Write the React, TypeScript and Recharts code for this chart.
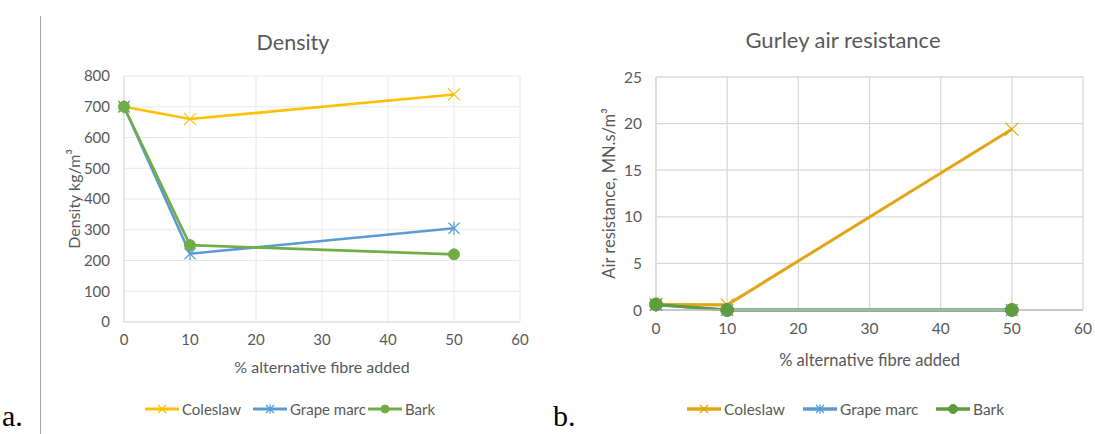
import React from "react";
import {
  LineChart,
  Line,
  XAxis,
  YAxis,
  CartesianGrid,
  Legend,
} from "recharts";

// % alternative fibre added
const fibre = [0, 10, 50];
const xTicks = [0, 10, 20, 30, 40, 50, 60];

// Density, kg/m3
const densityColeslaw = [700, 660, 740];
const densityGrapeMarc = [700, 222, 305];
const densityBark = [700, 250, 220];
const densityTicks = [0, 100, 200, 300, 400, 500, 600, 700, 800];

// Gurley air resistance, MN.s/m3
const airColeslaw = [0.6, 0.55, 19.4];
const airGrapeMarc = [0.55, 0, 0];
const airBark = [0.6, 0, 0];
const airTicks = [0, 5, 10, 15, 20, 25];

const seriesNames = ["Coleslaw", "Grape marc", "Bark"];

const densityData = fibre.map((f, i) => ({
  fibre: f,
  coleslaw: densityColeslaw[i],
  grape: densityGrapeMarc[i],
  bark: densityBark[i],
}));

const airData = fibre.map((f, i) => ({
  fibre: f,
  coleslaw: airColeslaw[i],
  grape: airGrapeMarc[i],
  bark: airBark[i],
}));

const FONT = "Lato, 'Open Sans', sans-serif";
const TEXT = "#595959";
const BLUE = "#5B9BD5";

type Marker = "cross" | "star" | "circle";

function MarkerShape({
  kind,
  cx,
  cy,
  color,
  size,
}: {
  kind: Marker;
  cx: number;
  cy: number;
  color: string;
  size: number;
}) {
  if (kind === "circle") {
    return <circle cx={cx} cy={cy} r={size} fill={color} stroke={color} />;
  }
  const s = size;
  return (
    <g stroke={color} strokeWidth={1.2} fill="none">
      <line x1={cx - s} y1={cy - s} x2={cx + s} y2={cy + s} />
      <line x1={cx - s} y1={cy + s} x2={cx + s} y2={cy - s} />
      {kind === "star" && <line x1={cx} y1={cy - s * 1.2} x2={cx} y2={cy + s * 1.2} />}
    </g>
  );
}

function makeDot(kind: Marker, color: string, size: number) {
  return (p: any) => (
    <MarkerShape
      key={`${kind}-${p.index}`}
      kind={kind}
      cx={p.cx}
      cy={p.cy}
      color={color}
      size={size}
    />
  );
}

function LegendRow({
  colors,
  kinds,
  offsets,
  fontSize,
  lineWidth,
  markerSizes,
}: {
  colors: string[];
  kinds: Marker[];
  offsets: number[];
  fontSize: number;
  lineWidth: number;
  markerSizes: number[];
}) {
  return (
    <div style={{ position: "relative", height: 20, fontFamily: FONT, fontSize, color: TEXT }}>
      {seriesNames.map((name, i) => (
        <div
          key={name}
          style={{
            position: "absolute",
            left: offsets[i],
            top: 0,
            display: "flex",
            alignItems: "center",
            whiteSpace: "nowrap",
            height: 20,
          }}
        >
          <svg width={34} height={16} style={{ display: "block" }}>
            <line x1={0} y1={8} x2={34} y2={8} stroke={colors[i]} strokeWidth={lineWidth} />
            <MarkerShape kind={kinds[i]} cx={17} cy={8} color={colors[i]} size={markerSizes[i]} />
          </svg>
          <span style={{ marginLeft: 3 }}>{name}</span>
        </div>
      ))}
    </div>
  );
}

function YTitle({ viewBox, text, dx, fontSize }: any) {
  const cx = viewBox.x + dx;
  const cy = viewBox.y + viewBox.height / 2;
  return (
    <text
      x={cx}
      y={cy}
      transform={`rotate(-90, ${cx}, ${cy})`}
      textAnchor="middle"
      dominantBaseline="central"
      fill={TEXT}
      fontFamily={FONT}
      fontSize={fontSize}
    >
      {text}
    </text>
  );
}

function XTitle({ viewBox, text, dy, fontSize }: any) {
  return (
    <text
      x={viewBox.x + viewBox.width / 2}
      y={viewBox.y + dy}
      textAnchor="middle"
      dominantBaseline="central"
      fill={TEXT}
      fontFamily={FONT}
      fontSize={fontSize}
    >
      {text}
    </text>
  );
}

function DensityChart() {
  const YELLOW = "#FFC000";
  const GREEN = "#70AD47";
  const tick = { fill: TEXT, fontSize: 15, fontFamily: FONT };
  return (
    <div style={{ position: "absolute", left: 0, top: 0 }}>
      <div
        style={{
          position: "absolute",
          left: 193,
          width: 200,
          top: 29,
          textAlign: "center",
          fontFamily: FONT,
          fontSize: 21.5,
          color: TEXT,
          whiteSpace: "nowrap",
        }}
      >
        Density
      </div>
      <LineChart
        width={560}
        height={434}
        data={densityData}
        margin={{ top: 76, right: 40, bottom: 72, left: 60 }}
      >
        <CartesianGrid stroke="#E8E8E8" strokeWidth={1} />
        <XAxis
          dataKey="fibre"
          type="number"
          domain={[0, 60]}
          ticks={xTicks}
          interval={0}
          tick={tick}
          tickLine={false}
          tickSize={0}
          tickMargin={12}
          axisLine={{ stroke: "#D9D9D9" }}
          height={40}
          label={<XTitle text="% alternative fibre added" dy={44} fontSize={16} />}
        />
        <YAxis
          type="number"
          domain={[0, 800]}
          ticks={densityTicks}
          interval={0}
          tick={tick}
          tickLine={false}
          tickSize={0}
          tickMargin={14}
          axisLine={{ stroke: "#D9D9D9" }}
          width={64}
          label={<YTitle text="Density kg/m³" dx={13} fontSize={16} />}
        />
        <Legend
          layout="horizontal"
          verticalAlign="middle"
          align="center"
          wrapperStyle={{ left: 145, top: 399, width: 340, height: 20 }}
          content={() => (
            <LegendRow
              colors={[YELLOW, BLUE, GREEN]}
              kinds={["cross", "star", "circle"]}
              offsets={[0, 108, 223]}
              fontSize={15}
              lineWidth={3}
              markerSizes={[4, 4, 4]}
            />
          )}
        />
        <Line
          dataKey="coleslaw"
          stroke={YELLOW}
          strokeWidth={2.6}
          isAnimationActive={false}
          dot={makeDot("cross", YELLOW, 6)}
        />
        <Line
          dataKey="grape"
          stroke={BLUE}
          strokeWidth={2.6}
          isAnimationActive={false}
          dot={makeDot("star", BLUE, 5.5)}
        />
        <Line
          dataKey="bark"
          stroke={GREEN}
          strokeWidth={2.6}
          isAnimationActive={false}
          dot={makeDot("circle", GREEN, 5.5)}
        />
      </LineChart>
    </div>
  );
}

function AirChart() {
  const YELLOW = "#E2A614";
  const GREEN = "#5E9C3C";
  const tick = { fill: TEXT, fontSize: 15.5, fontFamily: FONT };
  return (
    <div style={{ position: "absolute", left: 550, top: 0 }}>
      <div
        style={{
          position: "absolute",
          left: 143,
          width: 300,
          top: 26,
          textAlign: "center",
          fontFamily: FONT,
          fontSize: 22,
          color: TEXT,
          whiteSpace: "nowrap",
        }}
      >
        Gurley air resistance
      </div>
      <LineChart
        width={545}
        height={434}
        data={airData}
        margin={{ top: 77, right: 12, bottom: 84, left: 46 }}
      >
        <CartesianGrid stroke="#D9D9D9" strokeWidth={1.3} />
        <XAxis
          dataKey="fibre"
          type="number"
          domain={[0, 60]}
          ticks={xTicks}
          interval={0}
          tick={tick}
          tickLine={false}
          tickSize={0}
          tickMargin={13}
          axisLine={{ stroke: "#BFBFBF", strokeWidth: 1.3 }}
          height={40}
          label={<XTitle text="% alternative fibre added" dy={50} fontSize={16.5} />}
        />
        <YAxis
          type="number"
          domain={[0, 25]}
          ticks={airTicks}
          interval={0}
          tick={tick}
          tickLine={false}
          tickSize={0}
          tickMargin={14}
          axisLine={{ stroke: "#D9D9D9", strokeWidth: 1.3 }}
          width={60}
          label={<YTitle text="Air resistance, MN.s/m³" dx={13} fontSize={16.5} />}
        />
        <Legend
          layout="horizontal"
          verticalAlign="middle"
          align="center"
          wrapperStyle={{ left: 137, top: 399, width: 360, height: 20 }}
          content={() => (
            <LegendRow
              colors={[YELLOW, BLUE, GREEN]}
              kinds={["cross", "star", "circle"]}
              offsets={[0, 116, 249]}
              fontSize={15.5}
              lineWidth={3.5}
              markerSizes={[4, 4, 4.5]}
            />
          )}
        />
        <Line
          dataKey="coleslaw"
          stroke={YELLOW}
          strokeWidth={3}
          isAnimationActive={false}
          dot={makeDot("cross", YELLOW, 6.5)}
        />
        <Line
          dataKey="grape"
          stroke={BLUE}
          strokeWidth={3}
          isAnimationActive={false}
          dot={makeDot("star", BLUE, 6)}
        />
        <Line
          dataKey="bark"
          stroke={GREEN}
          strokeWidth={3}
          isAnimationActive={false}
          dot={makeDot("circle", GREEN, 6.5)}
        />
      </LineChart>
    </div>
  );
}

export default function App() {
  return (
    <div
      style={{
        position: "absolute",
        left: 0,
        top: 0,
        width: 1095,
        height: 434,
        background: "#FFFFFF",
        overflow: "hidden",
      }}
    >
      <div
        style={{
          position: "absolute",
          left: 40,
          top: 16,
          width: 1,
          height: 418,
          background: "#A6A6A6",
        }}
      />
      <DensityChart />
      <AirChart />
      <div
        style={{
          position: "absolute",
          left: 2,
          top: 398,
          fontFamily: "'Liberation Serif', 'Times New Roman', serif",
          fontSize: 30,
          color: "#000",
          lineHeight: "36px",
        }}
      >
        a.
      </div>
      <div
        style={{
          position: "absolute",
          left: 553,
          top: 398,
          fontFamily: "'Liberation Serif', 'Times New Roman', serif",
          fontSize: 30,
          color: "#000",
          lineHeight: "36px",
        }}
      >
        b.
      </div>
    </div>
  );
}
